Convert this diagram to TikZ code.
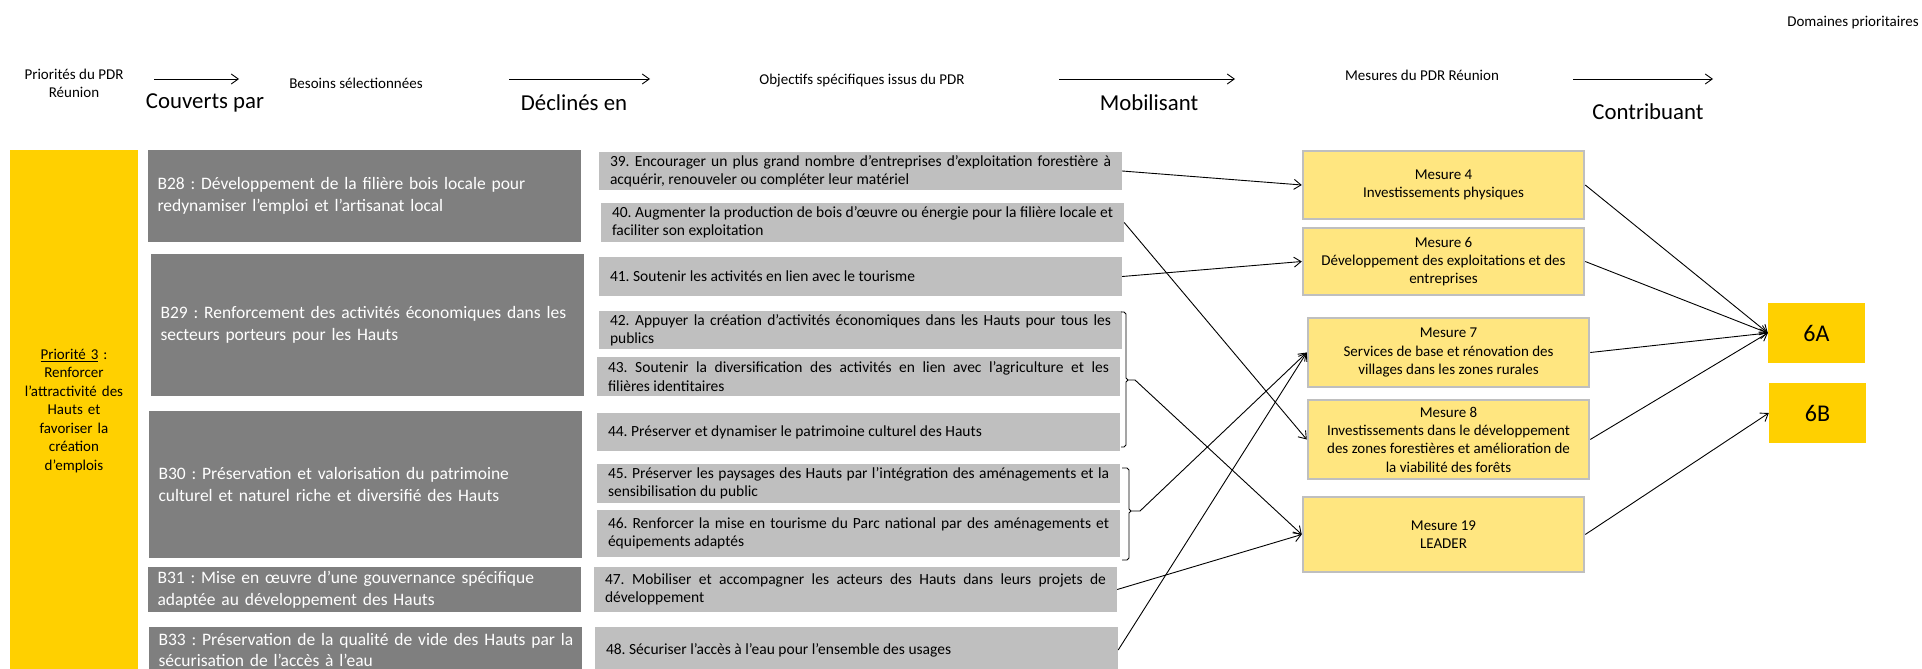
\documentclass[tikz,border=0pt]{standalone}
\usepackage{fontspec}
\setmainfont{Carlito}
\usetikzlibrary{arrows.meta}
\definecolor{prioY}{HTML}{FFD000}
\definecolor{besoinG}{HTML}{7F7F7F}
\definecolor{objG}{HTML}{BFBFBF}
\definecolor{mesY}{HTML}{FFE680}
\definecolor{mesB}{HTML}{BFBFBF}
\hyphenpenalty=10000
\exhyphenpenalty=10000
\frenchspacing
\hfuzz=20pt
\begin{document}
\begin{tikzpicture}[x=1pt, y=-1pt,
  prio/.style={fill=prioY, draw=none, inner sep=0pt, align=center, text width=124pt, minimum width=128pt, minimum height=522pt, font=\fontsize{15}{18.5}\selectfont},
  besoin/.style={fill=besoinG, draw=none, minimum width=433pt, inner sep=0pt, text width=414pt, align=left, text=white, font=\fontsize{17.5}{21.7}\selectfont},
  obj/.style={fill=objG, draw=none, minimum width=523pt, inner sep=0pt, text width=501pt, align=justify, font=\fontsize{15.5}{18.3}\selectfont},
  mes/.style={fill=mesY, draw=mesB, line width=2.5pt, minimum width=281pt, inner sep=0pt, align=center, font=\fontsize{15}{18.3}\selectfont},
  dom/.style={fill=prioY, draw=none, minimum width=97pt, minimum height=60pt, inner sep=0pt, font=\fontsize{24}{28}\selectfont},
  hdr/.style={font=\fontsize{15}{18.3}\selectfont, align=center, inner sep=0pt},
  verb/.style={font=\fontsize{22.8}{26}\selectfont, inner sep=0pt},
  conn/.style={draw, line width=0.9pt, -{Straight Barb[length=7pt,width=10pt]}},
  bracket/.style={draw, line width=0.9pt}
]
\useasboundingbox (0,0) rectangle (1922,669);
\clip (0,0) rectangle (1922,669);

% header
\node[hdr] (hPrio) at (74,83.5) {Priorités du PDR\\Réunion};
\node[verb] (hCouv) at (205,103) {Couverts par};
\node[hdr] (hBes) at (356,83) {Besoins sélectionnées};
\node[verb] (hDecl) at (574,103) {Déclinés en};
\node[hdr] (hObj) at (862,81) {Objectifs spécifiques issus du PDR};
\node[verb] (hMob) at (1149,103) {Mobilisant};
\node[hdr] (hMes) at (1422,75) {Mesures du PDR Réunion};
\node[verb] (hContr) at (1648,112) {Contribuant};
\node[hdr] (hDom) at (1853,23) {Domaines prioritaires};

\coordinate (a1s) at (154,79); \coordinate (a1e) at (239,79);
\coordinate (a2s) at (509,79); \coordinate (a2e) at (650,79);
\coordinate (a3s) at (1059,79); \coordinate (a3e) at (1235,79);
\coordinate (a4s) at (1573,79); \coordinate (a4e) at (1713,79);
\draw[conn] (a1s) -- (a1e);
\draw[conn] (a2s) -- (a2e);
\draw[conn] (a3s) -- (a3e);
\draw[conn] (a4s) -- (a4e);

% priority
\node[prio] (p3) at (74,411) {\underline{Priorité 3} :\\Renforcer\\l’attractivité des\\Hauts et\\favoriser la\\création\\d’emplois};

% besoins
\node[besoin, minimum height=92pt] (b28) at (364.5,196) {\mbox{B28 : Développement de la filière bois locale pour}\\\mbox{redynamiser l’emploi et l’artisanat local}};
\node[besoin, minimum height=142pt] (b29) at (367.5,325) {\mbox{B29 : Renforcement des activités économiques dans les}\\\mbox{secteurs porteurs pour les Hauts}};
\node[besoin, minimum height=147pt] (b30) at (365.5,484.5) {\mbox{B30 : Préservation et valorisation du patrimoine}\\\mbox{culturel et naturel riche et diversifié des Hauts}};
\node[besoin, minimum height=45pt] (b31) at (364.5,589.5) {\mbox{B31 : Mise en œuvre d’une gouvernance spécifique}\\\mbox{adaptée au développement des Hauts}};
\node[besoin, minimum height=46pt] (b33) at (365.5,650) {\mbox{B33 : Préservation de la qualité de vide des Hauts par la}\\\mbox{sécurisation de l’accès à l’eau}};

% objectifs
\node[obj, minimum height=38pt] (o39) at (860.5,171) {39. Encourager un plus grand nombre d’entreprises d’exploitation forestière à\linebreak acquérir, renouveler ou compléter leur matériel};
\node[obj, minimum height=39pt] (o40) at (862.5,222.5) {40. Augmenter la production de bois d’œuvre ou énergie pour la filière locale et\linebreak faciliter son exploitation};
\node[obj, minimum height=39pt] (o41) at (860.5,276.5) {41. Soutenir les activités en lien avec le tourisme};
\node[obj, minimum height=38pt] (o42) at (860.5,330) {42. Appuyer la création d’activités économiques dans les Hauts pour tous les\linebreak publics};
\node[obj, minimum height=39pt] (o43) at (858.5,376.5) {43. Soutenir la diversification des activités en lien avec l’agriculture et les\linebreak filières identitaires};
\node[obj, minimum height=38pt] (o44) at (858.5,432) {44. Préserver et dynamiser le patrimoine culturel des Hauts};
\node[obj, minimum height=39pt] (o45) at (858.5,483.5) {45. Préserver les paysages des Hauts par l’intégration des aménagements et la\linebreak sensibilisation du public};
\node[obj, minimum height=47pt] (o46) at (858.5,533.5) {46. Renforcer la mise en tourisme du Parc national par des aménagements et\linebreak équipements adaptés};
\node[obj, minimum height=45pt] (o47) at (855.5,589.5) {47. Mobiliser et accompagner les acteurs des Hauts dans leurs projets de\linebreak développement};
\node[obj, minimum height=46pt] (o48) at (856.5,650) {48. Sécuriser l’accès à l’eau pour l’ensemble des usages};

% mesures
\node[mes, minimum height=68pt] (m4) at (1443.5,185) {Mesure 4\\Investissements physiques};
\node[mes, minimum height=67pt] (m6) at (1443.5,261.5) {Mesure 6\\Développement des exploitations et des\\entreprises};
\node[mes, minimum height=69pt] (m7) at (1448.5,352.5) {Mesure 7\\Services de base et rénovation des\\villages dans les zones rurales};
\node[mes, minimum height=79pt] (m8) at (1448.5,439.5) {Mesure 8\\Investissements dans le développement\\des zones forestières et amélioration de\\la viabilité des forêts};
\node[mes, minimum height=75pt] (m19) at (1443.5,534.5) {Mesure 19\\LEADER};

% domaines
\node[dom] (d6a) at (1816.5,333) {6A};
\node[dom] (d6b) at (1817.5,413) {6B};

% brackets
\draw[bracket] (1121,312) -- (1124,312) -- (1126,314) -- (1126,378) -- (1128,380) -- (1135,380);
\draw[bracket] (1128,380) -- (1126,382) -- (1126,445) -- (1124,447) -- (1121,447);
\coordinate (br1) at (1135,380);
\draw[bracket] (1122,468) -- (1127,468) -- (1129,470) -- (1129,509) -- (1131,511) -- (1140,511);
\draw[bracket] (1131,511) -- (1129,513) -- (1129,558) -- (1127,560) -- (1122,560);
\coordinate (br2) at (1140,511);

% connectors
\draw[conn] (o39.east) -- (m4.west);
\draw[conn] (o40.east) -- (m8.west);
\draw[conn] (o41.east) -- (m6.west);
\draw[conn] (br1) -- (m19.west);
\draw[conn] (br2) -- (m7.west);
\draw[conn] (o47.east) -- (m19.west);
\draw[conn] (o48.east) -- (m7.west);
\draw[conn] (m4.east) -- (d6a.west);
\draw[conn] (m6.east) -- (d6a.west);
\draw[conn] (m7.east) -- (d6a.west);
\draw[conn] (m8.east) -- (d6a.west);
\draw[conn] (m19.east) -- (d6b.west);
\end{tikzpicture}
\end{document}
